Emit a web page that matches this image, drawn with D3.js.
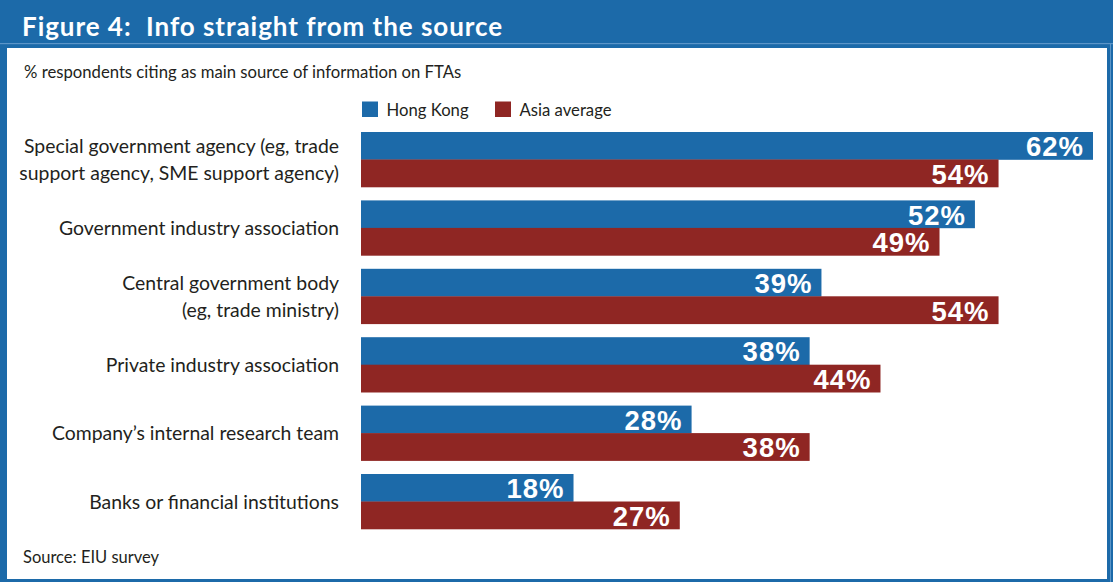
<!DOCTYPE html>
<html>
<head>
<meta charset="utf-8">
<script src="https://cdn.jsdelivr.net/npm/d3@7"></script>
<style>
  html, body { margin: 0; padding: 0; background: #ffffff; }
  svg { display: block; }
</style>
</head>
<body>
<svg id="chart" width="1113" height="582"></svg>
<script>
// Survey answers: main source of information on FTAs (% of respondents)
const categories = [
  "Special government agency (eg, trade\nsupport agency, SME support agency)",
  "Government industry association",
  "Central government body\n(eg, trade ministry)",
  "Private industry association",
  "Company\u2019s internal research team",
  "Banks or financial institutions"
];
const hongKong    = [62, 52, 39, 38, 28, 18];
const asiaAverage = [54, 49, 54, 44, 38, 27];
const seriesNames = ["Hong Kong", "Asia average"];

const title    = "Figure 4:  Info straight from the source";
const subtitle = "% respondents citing as main source of information on FTAs";
const source   = "Source: EIU survey";

const W = 1113, H = 582;
const blue = "#1c6aa9", red = "#8f2623", ink = "#231f20";
const labelFont = "Lato, 'Noto Sans', sans-serif";
const valueFont = "'Liberation Sans', Arial, sans-serif";

const svg = d3.select("#chart");

// Frame: blue header band and border around the white panel
svg.append("rect").attr("x", 0).attr("y", 0).attr("width", W).attr("height", H).attr("fill", blue);
svg.append("rect").attr("x", 0).attr("y", 43).attr("width", W).attr("height", 1.2).attr("fill", "#5b95c8");
svg.append("rect").attr("x", 1110).attr("y", 44).attr("width", 1).attr("height", H - 44).attr("fill", "#5b95c8");
svg.append("rect").attr("x", 7).attr("y", 48).attr("width", 1100).attr("height", 531).attr("fill", "#ffffff");

svg.append("text")
  .attr("x", 22).attr("y", 35.5)
  .attr("font-family", labelFont).attr("font-weight", 700)
  .attr("font-size", 26).attr("letter-spacing", 0.95).attr("fill", "#ffffff")
  .style("white-space", "pre")
  .text(title);

svg.append("text")
  .attr("x", 24).attr("y", 77.5)
  .attr("font-family", labelFont).attr("font-size", 16.7).attr("fill", ink)
  .text(subtitle);

svg.append("text")
  .attr("x", 23).attr("y", 563)
  .attr("font-family", labelFont).attr("font-size", 16.5).attr("fill", ink)
  .text(source);

// Scales
const x = d3.scaleLinear()
  .domain([0, d3.max(hongKong.concat(asiaAverage))])
  .range([361, 1093]);

const y = d3.scaleBand()
  .domain(categories)
  .range([132, 529])
  .paddingInner(0.196)
  .paddingOuter(0);

const ySub = d3.scaleBand()
  .domain(seriesNames)
  .range([0, y.bandwidth()]);

const color = d3.scaleOrdinal().domain(seriesNames).range([blue, red]);

// Legend
const legend = svg.append("g").selectAll("g")
  .data(seriesNames)
  .join("g")
  .attr("transform", (d, i) => `translate(${[362, 495][i]},101.5)`);
legend.append("rect").attr("width", 16).attr("height", 15.5).attr("fill", d => color(d));
legend.append("text")
  .attr("x", 24.5).attr("y", 14.2)
  .attr("font-family", labelFont).attr("font-size", 16.7).attr("fill", ink)
  .text(d => d);

// Category labels, centred on each group
const labels = svg.append("g").selectAll("text")
  .data(categories)
  .join("text")
  .attr("text-anchor", "end")
  .attr("font-family", labelFont).attr("font-size", 19.4).attr("fill", ink);
labels.each(function (d) {
  const lines = d.split("\n");
  const cy = y(d) + y.bandwidth() / 2;
  const lh = 26.5;
  d3.select(this).selectAll("tspan")
    .data(lines)
    .join("tspan")
    .attr("x", 339)
    .attr("y", (l, i) => cy + (i - (lines.length - 1) / 2) * lh + 7)
    .text(l => l);
});

// Bars
const rows = categories.map((c, i) => ({
  category: c,
  values: [
    { series: seriesNames[0], value: hongKong[i] },
    { series: seriesNames[1], value: asiaAverage[i] }
  ]
}));

const groups = svg.append("g").selectAll("g")
  .data(rows)
  .join("g")
  .attr("transform", d => `translate(0,${y(d.category)})`);

groups.selectAll("rect")
  .data(d => d.values)
  .join("rect")
  .attr("x", x(0))
  .attr("y", d => ySub(d.series))
  .attr("width", d => x(d.value) - x(0))
  .attr("height", ySub.bandwidth() + 0.3)
  .attr("fill", d => color(d.series));

groups.selectAll("text")
  .data(d => d.values)
  .join("text")
  .attr("x", d => x(d.value) - 9)
  .attr("y", d => ySub(d.series) + ySub.bandwidth() / 2 + 10.5)
  .attr("text-anchor", "end")
  .attr("font-family", valueFont).attr("font-weight", 700)
  .attr("font-size", 27.5).attr("letter-spacing", 1)
  .attr("fill", "#ffffff")
  .text(d => d.value + "%");
</script>
</body>
</html>
